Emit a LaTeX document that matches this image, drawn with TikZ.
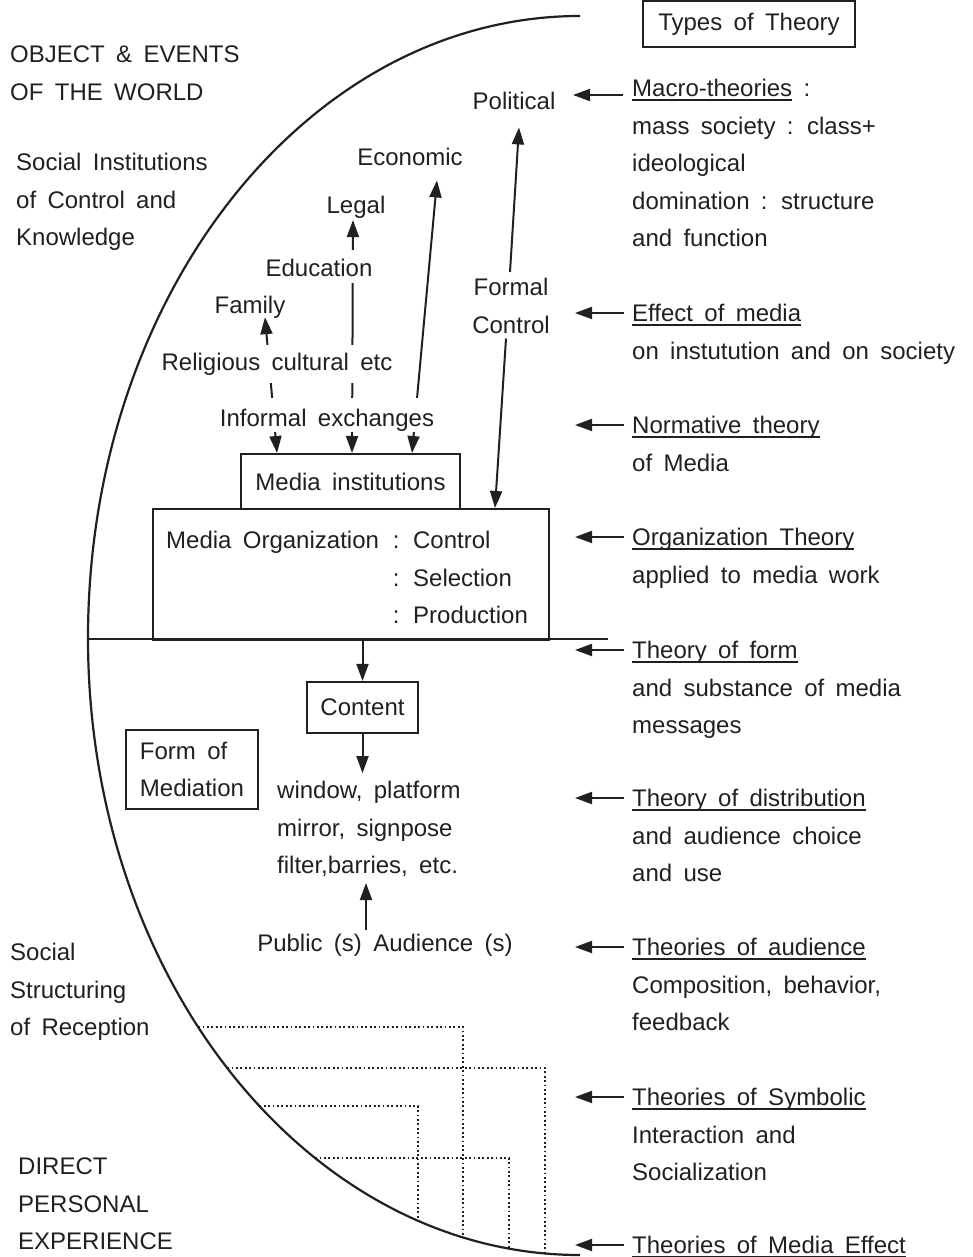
\documentclass[tikz,border=0pt]{standalone}
\usepackage{fontspec}
\setmainfont{Liberation Sans}[WordSpace=1.7]
\usetikzlibrary{arrows.meta,calc,backgrounds}
\definecolor{ink}{RGB}{35,31,32}
% underline sitting just below the baseline
\newcommand\ulin[1]{\setbox0\hbox{#1}\rlap{\rule[-4pt]{\wd0}{1.3pt}}\box0\relax}

\begin{document}
\begin{tikzpicture}[x=1pt,y=-1pt,
  every node/.style={inner sep=0pt,text=ink,font=\fontsize{24}{37.5}\selectfont},
  lbl/.style={anchor=base},
  blk/.style={anchor=north west,align=left},
  mask/.style={fill=white,inner xsep=3pt},
  frame/.style={draw=ink,line width=2pt},
  tip/.style={line width=2pt,draw=ink,-{Triangle[length=17pt,width=12pt]}},
  both/.style={line width=2pt,draw=ink,{Triangle[length=17pt,width=12pt]}-{Triangle[length=17pt,width=12pt]}},
  rim/.style={line width=2.2pt,draw=ink},
  dots/.style={line width=1.8pt,draw=ink,dash pattern=on 1.8pt off 2.6pt},
]
\useasboundingbox (0,0) rectangle (972,1257);

% the world boundary
\draw[rim] (580,16) arc[start angle=90,end angle=180,x radius=492pt,y radius=622pt]
                    arc[start angle=180,end angle=270,x radius=492pt,y radius=617pt];
\draw[line width=1.6pt,draw=ink] (88,639) -- (608,639);

% reception structure
\draw[dots] (198.1,1027) -- (463,1027) -- (463,1237.3);
\draw[dots] (227.1,1068) -- (545,1068) -- (545,1253.4);
\draw[dots] (259.4,1106) -- (418,1106) -- (418,1220.6);
\draw[dots] (315.2,1158) -- (509,1158) -- (509,1248.5);

% header
\node[frame,minimum width=212pt,minimum height=46pt] (types) at (749,24) {Types of Theory};

% left captions
\node[blk] (world) at (10,46) {OBJECT \& EVENTS\\OF THE WORLD};
\node[blk] (inst) at (16,153) {Social Institutions\\of Control and\\Knowledge};
\node[blk] (recep) at (10,943) {Social\\Structuring\\of Reception};
\node[blk] (direct) at (18,1158) {DIRECT\\PERSONAL\\EXPERIENCE};

% institutions
\node[lbl] (pol) at (514,109.6) {Political};
\node[lbl] (eco) at (410,165.6) {Economic};
\node[lbl] (leg) at (356,213.6) {Legal};
\node[lbl,mask,text height=26.6pt,text depth=6.4pt] (edu) at (319,276.6) {Education};
\node[lbl] (fam) at (250,313.6) {Family};
\node[lbl,mask,text height=25.6pt,text depth=12.4pt] (rel) at (277,370.6) {Religious cultural etc};
\node[lbl,mask,text height=28.6pt,text depth=5.4pt] (inf) at (327,426.6) {Informal exchanges};
\node[anchor=north,align=center] (fc) at (511,278) {Formal\\Control};

% media boxes
\node[frame,minimum width=219pt,minimum height=55pt] (mi) at (350.5,481.5) {Media institutions};
\node[frame,minimum width=396pt,minimum height=131pt] (org) at (351,574.5) {};
\node[anchor=north west] (orgtxt) at (166,522.4)
  {\begin{tabular}{@{}l@{\hspace{14pt}}l@{}}
   Media Organization & : Control\\
                      & : Selection\\
                      & : Production
   \end{tabular}};
\node[frame,line width=2.2pt,minimum width=111pt,minimum height=51pt] (con) at (362.5,707.5) {Content};
\node[frame,minimum width=132pt,minimum height=79pt,align=left] (fom) at (192,769.5) {Form of\\Mediation};
\node[blk] (win) at (277,781) {window, platform\\mirror, signpose\\filter,barries, etc.};
\node[lbl] (pub) at (385,951.6) {Public (s) Audience (s)};

% types of theory
\node[blk] (r1) at (632,79) {\ulin{Macro-theories} :\\mass society : class+\\ideological\\domination : structure\\and function};
\node[blk] (r2) at (632,304) {\ulin{Effect of media}\\on instutution and on society};
\node[blk] (r3) at (632,416) {\ulin{Normative theory}\\of Media};
\node[blk] (r4) at (632,528) {\ulin{Organization Theory}\\applied to media work};
\node[blk] (r5) at (632,641) {\ulin{Theory of form}\\and substance of media\\messages};
\node[blk] (r6) at (632,789) {\ulin{Theory of distribution}\\and audience choice\\and use};
\node[blk] (r7) at (632,938) {\ulin{Theories of audience}\\Composition, behavior,\\feedback};
\node[blk] (r8) at (632,1088) {\ulin{Theories of Symbolic}\\Interaction and\\Socialization};
\node[blk] (r9) at (632,1236) {\ulin{Theories of Media Effect}};

\begin{pgfonlayer}{background}
  % institutions and the media
  \draw[both] ($(mi.north west)+(37,0)$) -- ($(fam.south)+(15,-1.6)$);
  \draw[both] ($(mi.north west)+(112,0)$) -- ($(leg.south)+(-3,1.3)$);
  \draw[both] ($(mi.north west)+(172,0)$) -- ($(eco.south)+(27,14.4)$);
  \draw[tip] ($(fc.north)+(-1,-6)$) -- ($(pol.south)+(5,17.4)$);
  \draw[tip] ($(fc.south)+(-5,5)$) -- ($(org.north west)+(343,0)$);
  % flow of content
  \draw[tip] (con.north |- org.south) -- (con.north);
  \draw[tip] (con.south) -- ($(con.south)+(0,39)$);
  \draw[tip] ($(pub.north)+(-19,-4)$) -- ($(pub.north)+(-19,-51)$);
  % theory pointers
  \draw[tip] ($(r1.north west)+(-9,16)$) -- ($(r1.north west)+(-59,16)$);
  \foreach \r in {r2,r3,r4,r5,r6,r7,r8,r9}
    \draw[tip] ($(\r.north west)+(-8,9)$) -- ($(\r.north west)+(-57,9)$);
\end{pgfonlayer}
\end{tikzpicture}
\end{document}
